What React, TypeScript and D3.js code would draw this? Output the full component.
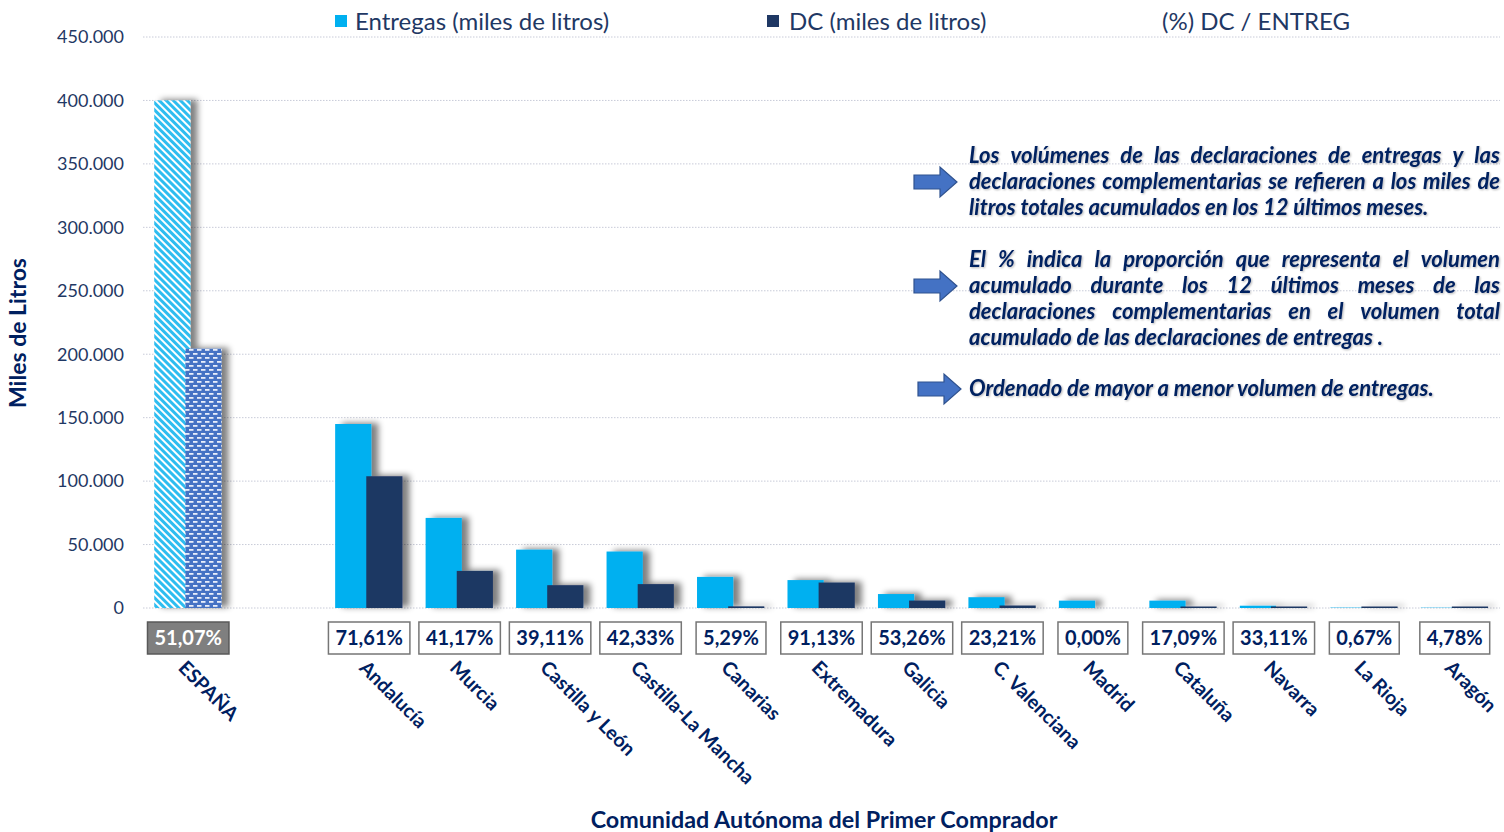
import React, { useMemo } from 'react';
import * as d3 from 'd3';

const categories = ['ESPAÑA', '_gap', 'Andalucía', 'Murcia', 'Castilla y León', 'Castilla-La Mancha', 'Canarias', 'Extremadura', 'Galicia', 'C. Valenciana', 'Madrid', 'Cataluña', 'Navarra', 'La Rioja', 'Aragón'];
const entregasValues = [400000, null, 145000, 71000, 46000, 44500, 24500, 22000, 11000, 8500, 5800, 5800, 1800, 300, 250];
const dcValues = [204280, null, 103835, 29230, 17990, 18840, 1300, 20050, 5860, 1970, 0, 990, 600, 2, 12];
const pctValues = [51.07, null, 71.61, 41.17, 39.11, 42.33, 5.29, 91.13, 53.26, 23.21, 0.0, 17.09, 33.11, 0.67, 4.78];
const yTicks = [0, 50000, 100000, 150000, 200000, 250000, 300000, 350000, 400000, 450000];
const legendLabels = ['Entregas (miles de litros)', 'DC (miles de litros)', '(%) DC / ENTREG'];

const para1 = ['Los volúmenes de las declaraciones de entregas y las', 'declaraciones complementarias se refieren a los miles de', 'litros totales acumulados en los 12 últimos meses.'];
const para2 = ['El %  indica la proporción que representa el volumen', 'acumulado durante los 12 últimos meses de las', 'declaraciones complementarias en el volumen total', 'acumulado de las declaraciones de entregas .'];
const para3 = ['Ordenado de mayor a menor volumen de entregas.'];

const W = 1504, H = 832;
const NAVY = '#1F3864';
const TEXT = '#002060';
const CYAN = '#00B0F0';
const FONT = 'Lato, "Open Sans", sans-serif';

const es = d3.formatLocale({ decimal: ',', thousands: '.', grouping: [3], currency: ['', ''] });
const fmtTick = es.format(',');
const fmtPct = es.format(',.2f');

let ctx: CanvasRenderingContext2D | null = null;
function measure(text: string, font: string) {
  if (!ctx) ctx = document.createElement('canvas').getContext('2d');
  ctx!.font = font;
  return ctx!.measureText(text).width;
}

const ANN_FONT_SIZE = 22;
const ANN_FONT = `italic bold ${ANN_FONT_SIZE}px Lato`;

function Paragraph({ lines, x0, x1, y0, lh }: { lines: string[]; x0: number; x1: number; y0: number; lh: number }) {
  return (
    <g>
      {lines.map((line, i) => {
        const y = y0 + i * lh;
        const last = i === lines.length - 1;
        if (last) {
          return <text key={i} x={x0} y={y}>{line}</text>;
        }
        const words = line.split(/\s+/);
        const widths = words.map(w => measure(w, ANN_FONT));
        const total = widths.reduce((a, b) => a + b, 0);
        const gap = (x1 - x0 - total) / (words.length - 1);
        let cx = x0;
        return (
          <text key={i} y={y}>
            {words.map((w, j) => {
              const t = <tspan key={j} x={cx}>{w}</tspan>;
              cx += widths[j] + gap;
              return t;
            })}
          </text>
        );
      })}
    </g>
  );
}

function Arrow({ x, y }: { x: number; y: number }) {
  const p = `M${x},${y - 7} L${x + 26},${y - 7} L${x + 26},${y - 15} L${x + 43},${y} L${x + 26},${y + 15} L${x + 26},${y + 7} L${x},${y + 7} Z`;
  return <path d={p} fill="#4472C4" stroke="#2F528F" strokeWidth={1.2} />;
}

export default function App() {
  const x = useMemo(() => d3.scaleBand<string>().domain(categories).range([143, 1500]).padding(0), []);
  const y = useMemo(() => d3.scaleLinear().domain([0, 450000]).range([608, 37]), []);
  const bw = x.bandwidth();
  const barW = bw * 0.4;

  const data = categories.map((c, i) => ({ c, i, e: entregasValues[i], d: dcValues[i], p: pctValues[i] }))
    .filter(r => r.e !== null);

  const center = (c: string) => (x(c) as number) + bw / 2;
  const hE = (v: number) => Math.max(0, y(0) - y(v));
  const hD = (v: number) => (v > 0 ? Math.max(y(0) - y(v), 1.5) : 0);

  return (
    <svg width={W} height={H} style={{ position: 'absolute', left: 0, top: 0, background: '#fff' }} fontFamily={FONT}>
      <defs>
        <filter id="shadow" filterUnits="userSpaceOnUse" x={0} y={0} width={W} height={H}>
          <feGaussianBlur in="SourceAlpha" stdDeviation={3} />
          <feOffset dx={7} dy={-1} result="off" />
          <feComponentTransfer>
            <feFuncA type="linear" slope={0.5} />
          </feComponentTransfer>
          <feMerge>
            <feMergeNode />
            <feMergeNode in="SourceGraphic" />
          </feMerge>
        </filter>
        <filter id="tshadow" filterUnits="userSpaceOnUse" x={0} y={0} width={W} height={H}>
          <feGaussianBlur in="SourceAlpha" stdDeviation={0.8} />
          <feOffset dx={1} dy={1} />
          <feComponentTransfer>
            <feFuncA type="linear" slope={0.3} />
          </feComponentTransfer>
          <feMerge>
            <feMergeNode />
            <feMergeNode in="SourceGraphic" />
          </feMerge>
        </filter>
        <pattern id="stripes" patternUnits="userSpaceOnUse" width={5} height={5} patternTransform="rotate(-45)">
          <rect width={5} height={5} fill="#fff" />
          <rect width={3} height={5} fill="#2FBDF0" />
        </pattern>
        <pattern id="dashes" patternUnits="userSpaceOnUse" width={8} height={8}>
          <rect width={8} height={8} fill="#4472C4" />
          <rect x={1} y={1} width={4.5} height={1.8} fill="#E8EEFA" />
          <rect x={5} y={5} width={4.5} height={1.8} fill="#E8EEFA" />
          <rect x={-3} y={5} width={4.5} height={1.8} fill="#E8EEFA" />
        </pattern>
      </defs>

      {/* gridlines */}
      {yTicks.map(t => (
        <line key={t} x1={143} x2={1500} y1={y(t)} y2={y(t)} stroke="#C8CBD8" strokeWidth={1} strokeDasharray="1.5,1.5" />
      ))}

      {/* y tick labels */}
      {yTicks.map(t => (
        <text key={t} x={124} y={y(t)} dy="0.35em" textAnchor="end" fontSize={18} fill={NAVY}>{fmtTick(t)}</text>
      ))}

      {/* y axis title */}
      <text transform={`translate(26,${333}) rotate(-90)`} textAnchor="middle" fontSize={23} fontWeight="bold" fill={TEXT}>Miles de Litros</text>

      {/* bars */}
      {data.map(r => {
        const c = center(r.c);
        const isTotal = r.i === 0;
        const he = hE(r.e as number);
        const hd = hD(r.d as number);
        return (
          <g key={r.c} filter="url(#shadow)">
            {he > 0 && <rect x={c - barW * 0.94} y={y(0) - he} width={barW} height={he} fill={isTotal ? 'url(#stripes)' : CYAN} />}
            {hd > 0 && <rect x={c - barW * 0.08} y={y(0) - hd} width={barW} height={hd} fill={isTotal ? 'url(#dashes)' : NAVY} />}
          </g>
        );
      })}

      {/* percentage boxes */}
      {data.map(r => {
        const c = center(r.c);
        const isTotal = r.i === 0;
        const label = fmtPct(r.p as number) + '%';
        const tw = measure(label, 'bold 20px Lato');
        const bwBox = tw + 14;
        return (
          <g key={'p' + r.c}>
            <rect x={c - bwBox / 2} y={622} width={bwBox} height={32} fill={isTotal ? '#7F7F7F' : '#fff'} stroke={isTotal ? '#595959' : '#767676'} strokeWidth={1.5} />
            <text x={c} y={645} textAnchor="middle" fontSize={20} fontWeight="bold" fill={isTotal ? '#fff' : TEXT}>{label}</text>
          </g>
        );
      })}

      {/* category labels */}
      {data.map(r => {
        const c = center(r.c);
        return (
          <text key={'c' + r.c} transform={`translate(${c - 11},${669}) rotate(45)`} fontSize={19.5} fontWeight="bold" fill={TEXT}>{r.c}</text>
        );
      })}

      {/* x axis title */}
      <text x={824} y={828} textAnchor="middle" fontSize={23.3} fontWeight="bold" fill={TEXT}>Comunidad Autónoma del Primer Comprador</text>

      {/* legend */}
      <rect x={335} y={15} width={12} height={12} fill={CYAN} />
      <text x={355} y={30} fontSize={24} fill={NAVY}>{legendLabels[0]}</text>
      <rect x={767} y={15} width={12} height={12} fill={NAVY} />
      <text x={789} y={30} fontSize={24} fill={NAVY}>{legendLabels[1]}</text>
      <text x={1162} y={30} fontSize={24} fill={NAVY}>{legendLabels[2]}</text>

      {/* annotations */}
      <Arrow x={914} y={182} />
      <Arrow x={914} y={286} />
      <Arrow x={918} y={389} />
      <g fontSize={ANN_FONT_SIZE} fontStyle="italic" fontWeight="bold" fill={TEXT} filter="url(#tshadow)">
        <Paragraph lines={para1} x0={969} x1={1500} y0={163} lh={26} />
        <Paragraph lines={para2} x0={969} x1={1500} y0={267} lh={26} />
        <Paragraph lines={para3} x0={969} x1={1500} y0={396} lh={26} />
      </g>
    </svg>
  );
}
